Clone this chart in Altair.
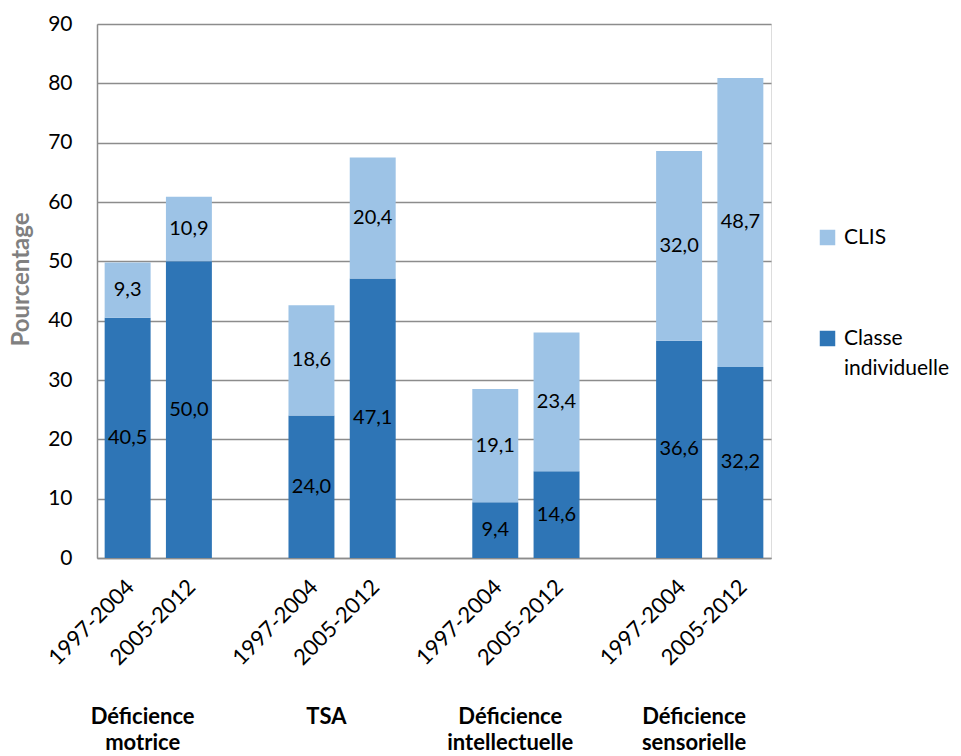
import altair as alt
import pandas as pd

# Categories, periods and the two series (percentages)
groups = ["Déficience motrice", "TSA", "Déficience intellectuelle", "Déficience sensorielle"]
group_labels = ["Déficience\nmotrice", "TSA", "Déficience\nintellectuelle", "Déficience\nsensorielle"]
periods = ["1997-2004", "2005-2012"]
classe_individuelle = [40.5, 50.0, 24.0, 47.1, 9.4, 14.6, 36.6, 32.2]
clis = [9.3, 10.9, 18.6, 20.4, 19.1, 23.4, 32.0, 48.7]
series = ["CLIS", "Classe individuelle"]
colors = ["#9DC3E6", "#2E75B6"]
y_ticks = list(range(0, 91, 10))

FONT = "Lato"
GRID = "#8c8c8c"

# Long table: one row per bar segment; empty slots separate the groups
rows = []
domain = []
for gi, g in enumerate(groups):
    if gi > 0:
        domain.append(f"gap{gi}")
    for pi, p in enumerate(periods):
        key = f"{g}|{p}"
        domain.append(key)
        i = gi * 2 + pi
        rows.append(dict(key=key, serie="Classe individuelle", rank=0, value=classe_individuelle[i]))
        rows.append(dict(key=key, serie="CLIS", rank=1, value=clis[i]))
df = pd.DataFrame(rows)
groups_df = pd.DataFrame({"key": [f"{g}|{periods[0]}" for g in groups], "label": group_labels})

x_scale = alt.Scale(domain=domain, paddingInner=0.25, paddingOuter=0.125)
y_scale = alt.Scale(domain=[0, 90], nice=False)

x_axis = alt.Axis(
    title=None,
    labelExpr="split(datum.value, '|').length > 1 ? split(datum.value, '|')[1] : ''",
    labelAngle=-45, labelAlign="right", labelBaseline="middle",
    labelPadding=25, labelOffset=3,
    labelFont=FONT, labelFontSize=22, labelColor="black",
    ticks=False, tickSize=0, grid=False,
    domainColor=GRID, domainWidth=1.5,
)
y_axis = alt.Axis(
    values=y_ticks, title="Pourcentage",
    titleFont=FONT, titleFontSize=24, titleFontWeight="bold", titleColor="#808080",
    titleX=-64, titleY=255,
    labelFont=FONT, labelFontSize=21, labelColor="black", labelPadding=25,
    ticks=False, tickSize=0,
    grid=True, gridColor=GRID, gridWidth=1.5,
    domainColor=GRID, domainWidth=1.5,
)

base = alt.Chart(df).transform_stack(
    stack="value", groupby=["key"], as_=["y0", "y1"],
    sort=[alt.SortField("rank", order="ascending")],
).transform_calculate(
    mid="(datum.y0 + datum.y1) / 2",
    label="replace(format(datum.value, '.1f'), '.', ',')",
)

bars = base.mark_bar().encode(
    x=alt.X("key:N", scale=x_scale, axis=x_axis),
    y=alt.Y("y1:Q", scale=y_scale, axis=y_axis),
    y2="y0:Q",
    color=alt.Color(
        "serie:N",
        scale=alt.Scale(domain=series, range=colors),
        legend=alt.Legend(
            title=None, orient="none", legendX=720, legendY=203, padding=0,
            labelFont=FONT, labelFontSize=21, labelColor="black",
            labelExpr="split(datum.label, ' ')", labelOffset=6,
            symbolType="square", symbolSize=240, symbolStrokeWidth=0,
            rowPadding=79,
        ),
    ),
)

values = base.mark_text(font=FONT, fontSize=20, color="black").encode(
    x=alt.X("key:N", scale=x_scale, axis=x_axis),
    y=alt.Y("mid:Q", scale=y_scale, axis=y_axis),
    text="label:N",
)

group_text = alt.Chart(groups_df).mark_text(
    font=FONT, fontSize=22, fontWeight="bold", color="black",
    lineBreak="\n", lineHeight=26, baseline="middle", dx=15,
).encode(
    x=alt.X("key:N", scale=x_scale, axis=x_axis),
    y=alt.value(693),
    text="label:N",
)

chart = alt.layer(bars, values, group_text).properties(
    width=674, height=534,
    autosize=alt.AutoSizeParams(type="none"),
    padding={"left": 97, "top": 24, "right": 190, "bottom": 198},
    background="white",
).configure_view(stroke=None).configure(
    style={"guide-label": {"lineHeight": 30}}
)

chart.save("out.html", embed_options={"renderer": "svg", "actions": False})
